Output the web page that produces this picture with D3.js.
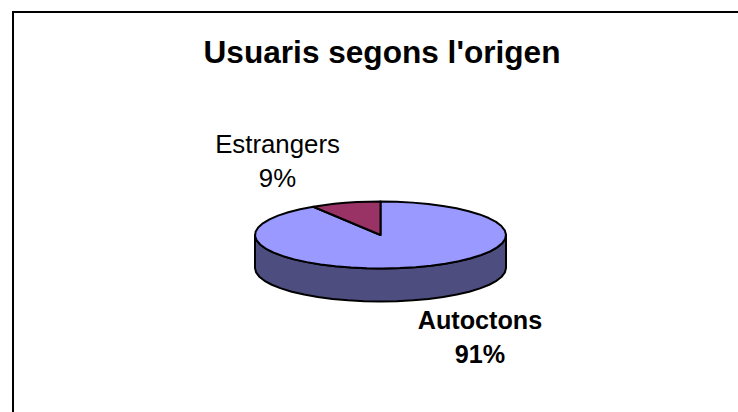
<!DOCTYPE html>
<html><head><meta charset="utf-8">
<script src="https://cdn.jsdelivr.net/npm/d3@7"></script>
<style>html,body{margin:0;padding:0;background:#fff;overflow:hidden}svg{display:block}text{font-family:"Liberation Sans",Arial,sans-serif;fill:#000}</style>
</head><body><div id="c"></div>
<script>
const categories = ["Estrangers", "Autoctons"];
const shares = [9, 91];
const colors = ["#993366", "#9999ff"];
const sideColor = "#4d4d80";
const W = 738, H = 412;
const svg = d3.select("#c").append("svg").attr("width", W).attr("height", H);
svg.append("path").attr("d", "M13,412V12H738").attr("fill","none").attr("stroke","#000").attr("stroke-width",2);
svg.append("text").attr("x",382).attr("y",63).attr("text-anchor","middle").attr("font-size",31.6).attr("font-weight","bold").text("Usuaris segons l'origen");

const cx = 380.5, cy = 235, rx = 125.5, ry = 33.5, depth = 33;
const startA = -2*Math.PI*shares[0]/100;
const pie = d3.pie().sort(null).value(d => d).startAngle(startA).endAngle(startA + 2*Math.PI);
const arcs = pie(shares);
const pt = a => [cx + rx*Math.sin(a), cy - ry*Math.cos(a)];
function slicePath(a0,a1){
  const n = Math.max(6, Math.round((a1-a0)/(Math.PI/24)));
  const s = d3.range(n+1).map(i => pt(a0+(a1-a0)*i/n));
  return "M"+cx+","+cy+"L"+s.map(p=>p.join(",")).join("L")+"Z";
}
const sidePts = d3.range(0,25).map(i => pt(Math.PI/2 + Math.PI*i/24));
const sideLow = sidePts.slice().reverse().map(p => [p[0], p[1]+depth]);
svg.append("path").attr("d","M"+sidePts.concat(sideLow).map(p=>p.join(",")).join("L")+"Z")
  .attr("fill",sideColor).attr("stroke","#000").attr("stroke-width",2).attr("stroke-linejoin","round");
arcs.slice().reverse().forEach(d=>{
  svg.append("path").attr("d",slicePath(d.startAngle,d.endAngle))
   .attr("fill",colors[d.index]).attr("stroke","#000").attr("stroke-width",2).attr("stroke-linejoin","round");
});
function label(x,y,lines,bold,size){
  lines.forEach((t,i)=>svg.append("text").attr("x",x).attr("y",y+i*34).attr("text-anchor","middle")
    .attr("font-size",size).attr("font-weight",bold?"bold":"normal").text(t));
}
label(277.5,153,[categories[0],shares[0]+"%"],false,25.8);
label(480,329,[categories[1],shares[1]+"%"],true,25.2);
</script></body></html>
